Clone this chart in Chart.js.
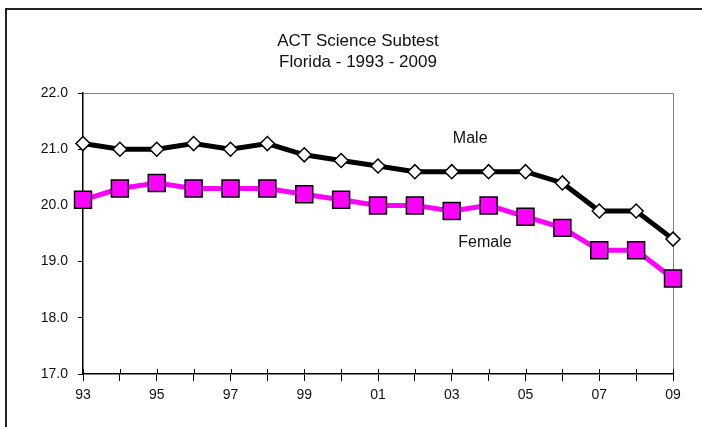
<!DOCTYPE html>
<html>
<head>
<meta charset="utf-8">
<title>ACT Science Subtest</title>
<script src="https://cdn.jsdelivr.net/npm/chart.js@4.4.1/dist/chart.umd.min.js"></script>
<style>
    body { margin: 0; background: #fff; }
    #wrap { position: relative; width: 702px; height: 427px; }
</style>
</head>
<body>
<div id="wrap"><canvas id="actChart"></canvas></div>
<script>
// data
const years = ['93', '94', '95', '96', '97', '98', '99', '00', '01', '02', '03', '04', '05', '06', '07', '08', '09'];
const maleScores = [21.1, 21.0, 21.0, 21.1, 21.0, 21.1, 20.9, 20.8, 20.7, 20.6, 20.6, 20.6, 20.6, 20.4, 19.9, 19.9, 19.4];
const femaleScores = [20.1, 20.3, 20.4, 20.3, 20.3, 20.3, 20.2, 20.1, 20.0, 20.0, 19.9, 20.0, 19.8, 19.6, 19.2, 19.2, 18.7];
const titleLines = ['ACT Science Subtest', 'Florida - 1993 - 2009'];

const FONT = '"Liberation Sans", Arial, sans-serif';

// frame, plot border, title and series labels
const decorations = {
    id: 'decorations',
    beforeDraw(chart) {
        const ctx = chart.ctx;
        const area = chart.chartArea;
        ctx.save();
        // outer frame (only top/left visible in the picture)
        ctx.strokeStyle = '#222';
        ctx.lineWidth = 2;
        ctx.beginPath();
        ctx.moveTo(6, 427);
        ctx.lineTo(6, 9);
        ctx.lineTo(702, 9);
        ctx.stroke();
        // plot box top and right edges
        ctx.strokeStyle = '#808080';
        ctx.lineWidth = 1;
        ctx.beginPath();
        ctx.moveTo(area.left, area.top + 0.5);
        ctx.lineTo(area.right + 0.5, area.top + 0.5);
        ctx.lineTo(area.right + 0.5, area.bottom);
        ctx.stroke();
        // x ticks poke a little above the axis too
        const x = chart.scales.x;
        ctx.strokeStyle = '#000';
        ctx.beginPath();
        years.forEach((yr, i) => {
            const px = Math.round(x.getPixelForTick(i)) + 0.5;
            ctx.moveTo(px, area.bottom);
            ctx.lineTo(px, area.bottom - 5);
        });
        ctx.stroke();
        ctx.restore();
    },
    afterDatasetsDraw(chart) {
        const ctx = chart.ctx;
        const x = chart.scales.x;
        const y = chart.scales.y;
        ctx.save();
        ctx.fillStyle = '#111';
        ctx.textAlign = 'center';
        ctx.textBaseline = 'middle';
        ctx.font = '17px ' + FONT;
        ctx.fillText(titleLines[0], 358, 41);
        ctx.fillText(titleLines[1], 358, 62);
        ctx.font = '16px ' + FONT;
        ctx.fillText('Male', x.getPixelForValue(10.5), y.getPixelForValue(21.18));
        ctx.fillText('Female', x.getPixelForValue(10.9), y.getPixelForValue(19.33));
        ctx.restore();
    }
};

const ctx = document.getElementById('actChart').getContext('2d');
new Chart(ctx, {
    type: 'line',
    data: {
        labels: years,
        datasets: [{
            label: 'Female',
            data: femaleScores,
            borderColor: '#ff00ff',
            borderWidth: 5,
            pointStyle: 'rect',
            pointRadius: 12,
            pointBackgroundColor: '#ff00ff',
            pointBorderColor: '#000',
            pointBorderWidth: 1.5,
            tension: 0
        }, {
            label: 'Male',
            data: maleScores,
            borderColor: '#000',
            borderWidth: 5,
            pointStyle: 'rectRot',
            pointRadius: 7,
            pointBackgroundColor: '#fff',
            pointBorderColor: '#000',
            pointBorderWidth: 1.5,
            tension: 0
        }]
    },
    options: {
        responsive: true,
        maintainAspectRatio: false,
        animation: false,
        layout: {
            padding: { top: 93, right: 29, left: 0, bottom: 0 }
        },
        plugins: {
            legend: { display: false },
            title: { display: false },
            tooltip: { enabled: false }
        },
        scales: {
            x: {
                offset: false,
                afterFit: scale => { scale.height = 53; },
                border: { color: '#000', width: 1.5 },
                grid: {
                    drawOnChartArea: false,
                    drawTicks: true,
                    tickLength: 7,
                    color: '#000'
                },
                ticks: {
                    autoSkip: false,
                    maxRotation: 0,
                    padding: 6,
                    color: '#111',
                    font: { family: FONT, size: 14 },
                    callback: function(value, index) {
                        return index % 2 === 0 ? years[index] : '';
                    }
                }
            },
            y: {
                min: 17,
                max: 22,
                afterFit: scale => { scale.width = 83; },
                border: { color: '#000', width: 1.5 },
                grid: {
                    drawOnChartArea: false,
                    drawTicks: true,
                    tickLength: 5,
                    color: '#000'
                },
                ticks: {
                    stepSize: 1,
                    padding: 10,
                    color: '#111',
                    font: { family: FONT, size: 14 },
                    callback: value => value.toFixed(1)
                }
            }
        }
    },
    plugins: [decorations]
});
</script>
</body>
</html>
